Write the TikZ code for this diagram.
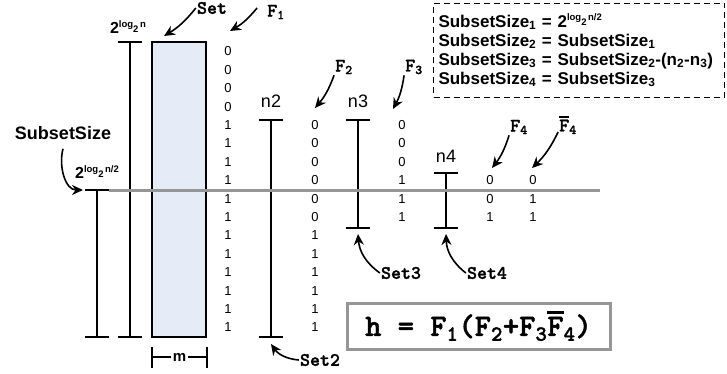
\documentclass[tikz,border=0pt]{standalone}
\usepackage{fontspec}
\setmainfont{Liberation Sans}
\newfontfamily\tagfont{lmmonolt10-bold.otf}[FakeBold=1.5]
\usetikzlibrary{arrows.meta}

\definecolor{setfill}{RGB}{229,236,247}
\definecolor{axisgray}{RGB}{150,150,150}

% 2^{log_2 ...} as drawn in the figure
\newcommand{\powlog}[1]{\textbf{2}\raisebox{6.5pt}{\fontsize{9.5}{9.5}\selectfont\bfseries log\raisebox{-5pt}{2}\,#1}}
% F with a bar over it
\newcommand{\notF}{\vbox{\hrule height 0.09em\kern0.1em\hbox{F}}}

\begin{document}
\begin{tikzpicture}[x=1pt, y=-1pt,
    bar/.style={line width=1.6pt},
    bit/.style={inner sep=0pt, font=\fontsize{13}{13}\selectfont},
    tag/.style={inner sep=1pt, font=\fontsize{19}{19}\tagfont},
    cnt/.style={inner sep=1pt, font=\fontsize{18}{18}\selectfont},
    pointer/.style={line width=1.6pt, -{Stealth[length=11pt,width=10pt]}},
    >={Stealth[length=11pt,width=10pt]}
]
\useasboundingbox (0,0) rectangle (727,374);

% the set, and the size brackets
\node[draw, fill=setfill, line width=1.6pt, minimum width=54, minimum height=295, inner sep=0pt] (set) at (179,189.5) {};
\draw[bar] (118,42) -- (142,42) (130,42) -- (130,337) (118,337) -- (142,337);
\draw[bar] (85,190) -- (109,190) (97,190) -- (97,337) (85,337) -- (109,337);
\draw[bar] (259,120) -- (283,120) (271,120) -- (271,337) (259,337) -- (283,337);
\draw[bar] (346,120) -- (370,120) (358,120) -- (358,228) (346,228) -- (370,228);
\draw[bar] (434,173) -- (458,173) (446,173) -- (446,228) (434,228) -- (458,228);

\node[inner sep=0pt, font=\fontsize{16}{16}\selectfont] (full) at (128,27) {\powlog{n}};
\node[inner sep=0pt, font=\fontsize{16}{16}\selectfont] (half) at (97,172) {\powlog{n/2}};
\node[inner sep=1pt, font=\fontsize{18}{18}\selectfont\bfseries] (subset) at (63,133) {SubsetSize};
\node[cnt] (n2) at (271,101) {n2};
\node[cnt] (n3) at (358,101) {n3};
\node[cnt] (n4) at (446,156) {n4};

% bit columns
\foreach \b [count=\i from 0] in {0,0,0,0,1,1,1,1,1,1,1,1,1,1,1,1}
  \node[bit] (fa\i) at (228,51.5+18.4*\i) {\b};
\foreach \b [count=\i from 4] in {0,0,0,0,0,0,1,1,1,1,1,1}
  \node[bit] (fb\i) at (315,51.5+18.4*\i) {\b};
\foreach \b [count=\i from 4] in {0,0,0,1,1,1}
  \node[bit] (fc\i) at (402,51.5+18.4*\i) {\b};
\foreach \b [count=\i from 7] in {0,0,1}
  \node[bit] (fd\i) at (490,51.5+18.4*\i) {\b};
\foreach \b [count=\i from 7] in {0,1,1}
  \node[bit] (fe\i) at (533,51.5+18.4*\i) {\b};

% the cut at SubsetSize
\draw[axisgray, line width=3pt] (109,190) -- (600,190);

% column tags
\node[tag] (settag) at (212,8) {Set};
\node[tag] (f1) at (276,12) {F\textsubscript{1}};
\node[tag] (f2) at (344,67) {F\textsubscript{2}};
\node[tag] (f3) at (414,67) {F\textsubscript{3}};
\node[tag] (f4) at (519,127) {F\textsubscript{4}};
\node[tag] (f4n) at (568,125) {\notF\textsubscript{4}};
\node[tag] (set2) at (320,360) {Set2};
\node[tag] (set3) at (401,273) {Set3};
\node[tag] (set4) at (487,273) {Set4};

\coordinate (settip) at (164,36);
\coordinate (f1tip) at (230,31);
\coordinate (f2tip) at (315,108);
\coordinate (f3tip) at (393,109);
\coordinate (f4tip) at (492,168);
\coordinate (f4ntip) at (532,168);
\coordinate (n2tip) at (271,344);
\coordinate (n3tip) at (358,234);
\coordinate (n4tip) at (446,234);
\coordinate (halftip) at (83,190);

\draw[pointer] (settag.west) to[bend left=10] (settip);
\draw[pointer] (f1.west) ++(-9,-4) to[bend left=10] (f1tip);
\draw[pointer] (f2.south west) to[bend left=10] (f2tip);
\draw[pointer] (f3.south west) to[bend left=10] (f3tip);
\draw[pointer] (f4.south west) to[bend left=10] (f4tip);
\draw[pointer] (f4n.south west) ++(0,-3) to[bend left=10] (f4ntip);
\draw[pointer] (set2.west) to[bend left=25] (n2tip);
\draw[pointer] (set3.west) to[bend left=25] (n3tip);
\draw[pointer] (set4.west) to[bend left=25] (n4tip);
\draw[pointer] (subset.south) ++(0,8) to[out=-105, in=180] (halftip);

% width of the set
\node[inner sep=2pt, font=\fontsize{15}{15}\selectfont\bfseries] (m) at (179.5,357) {m};
\draw[bar] (152,347) -- (152,368) (207,347) -- (207,368);
\draw[bar] (152,357) -- (m.west) (m.east) -- (207,357);

% sizes of the subsets
\node[draw, dashed, line width=1pt, dash pattern=on 6pt off 4pt, anchor=north west,
      text width=281, minimum height=94, inner sep=5pt, align=left,
      font=\fontsize{17}{19}\selectfont\bfseries] (rules) at (433,3)
  {SubsetSize\textsubscript{1} = \powlog{n/2}\\
   SubsetSize\textsubscript{2} = SubsetSize\textsubscript{1}\\
   SubsetSize\textsubscript{3} = SubsetSize\textsubscript{2}-(n\textsubscript{2}-n\textsubscript{3})\\
   SubsetSize\textsubscript{4} = SubsetSize\textsubscript{3}};

% hash function
\node[draw=axisgray, line width=3pt, minimum width=263, minimum height=46, inner sep=0pt,
      font=\fontsize{31}{31}\tagfont] (hash) at (478.5,326)
  {h = F\textsubscript{1}(F\textsubscript{2}+F\textsubscript{3}\notF\textsubscript{4})};
\end{tikzpicture}
\end{document}
